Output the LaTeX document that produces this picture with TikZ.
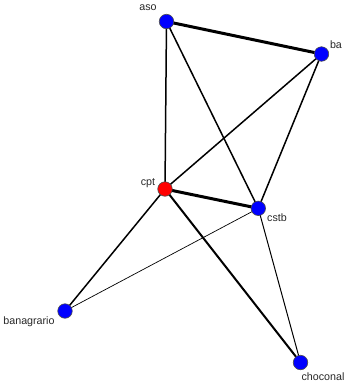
\documentclass[tikz,border=0pt]{standalone}
\usepackage{fontspec}
\setmainfont{Liberation Sans}
\usetikzlibrary{backgrounds}
\definecolor{nblue}{RGB}{0,0,255}
\definecolor{nred}{RGB}{255,0,0}
\definecolor{lbl}{RGB}{40,40,40}
\begin{document}
\begin{tikzpicture}[x=1pt,y=-1pt,
  vert/.style={circle,draw=black!70,line width=0.6pt,inner sep=0pt,minimum size=14.5pt},
  bluev/.style={vert,fill=nblue},
  redv/.style={vert,fill=nred},
  lab/.style={font=\fontsize{10.7}{12}\selectfont,text=lbl,inner sep=0pt},
  thick3/.style={line width=3pt},
  med/.style={line width=1.5pt},
  med2/.style={line width=2pt},
  thin1/.style={line width=1pt},
  thin07/.style={line width=0.7pt}]
\node[bluev] (aso) at (166.5,21.5) {};
\node[bluev] (ba) at (321.5,54) {};
\node[redv] (cpt) at (165,189) {};
\node[bluev] (cstb) at (258.3,208.3) {};
\node[bluev] (ban) at (65,311) {};
\node[bluev] (cho) at (300.5,362.5) {};
\begin{pgfonlayer}{background}
\fill[white] (0,0) rectangle (349,384);
\draw[thick3] (aso.center) -- (ba.center);
\draw[med] (aso.center) -- (cpt.center);
\draw[med] (aso.center) -- (cstb.center);
\draw[med] (ba.center) -- (cpt.center);
\draw[med] (ba.center) -- (cstb.center);
\draw[thick3] (cpt.center) -- (cstb.center);
\draw[med] (cpt.center) -- (ban.center);
\draw[med2] (cpt.center) -- (cho.center);
\draw[thin07] (cstb.center) -- (ban.center);
\draw[thin1] (cstb.center) -- (cho.center);
\end{pgfonlayer}
\node[lab] (laso) at (148,8) {aso};
\node[lab] (lba) at (336,45) {ba};
\node[lab] (lcpt) at (148,183) {cpt};
\node[lab] (lcstb) at (277,218) {cstb};
\node[lab] (lban) at (29,322) {banagrario};
\node[lab] (lcho) at (323,377) {choconal};
\useasboundingbox (0,0) rectangle (349,384);
\end{tikzpicture}
\end{document}
